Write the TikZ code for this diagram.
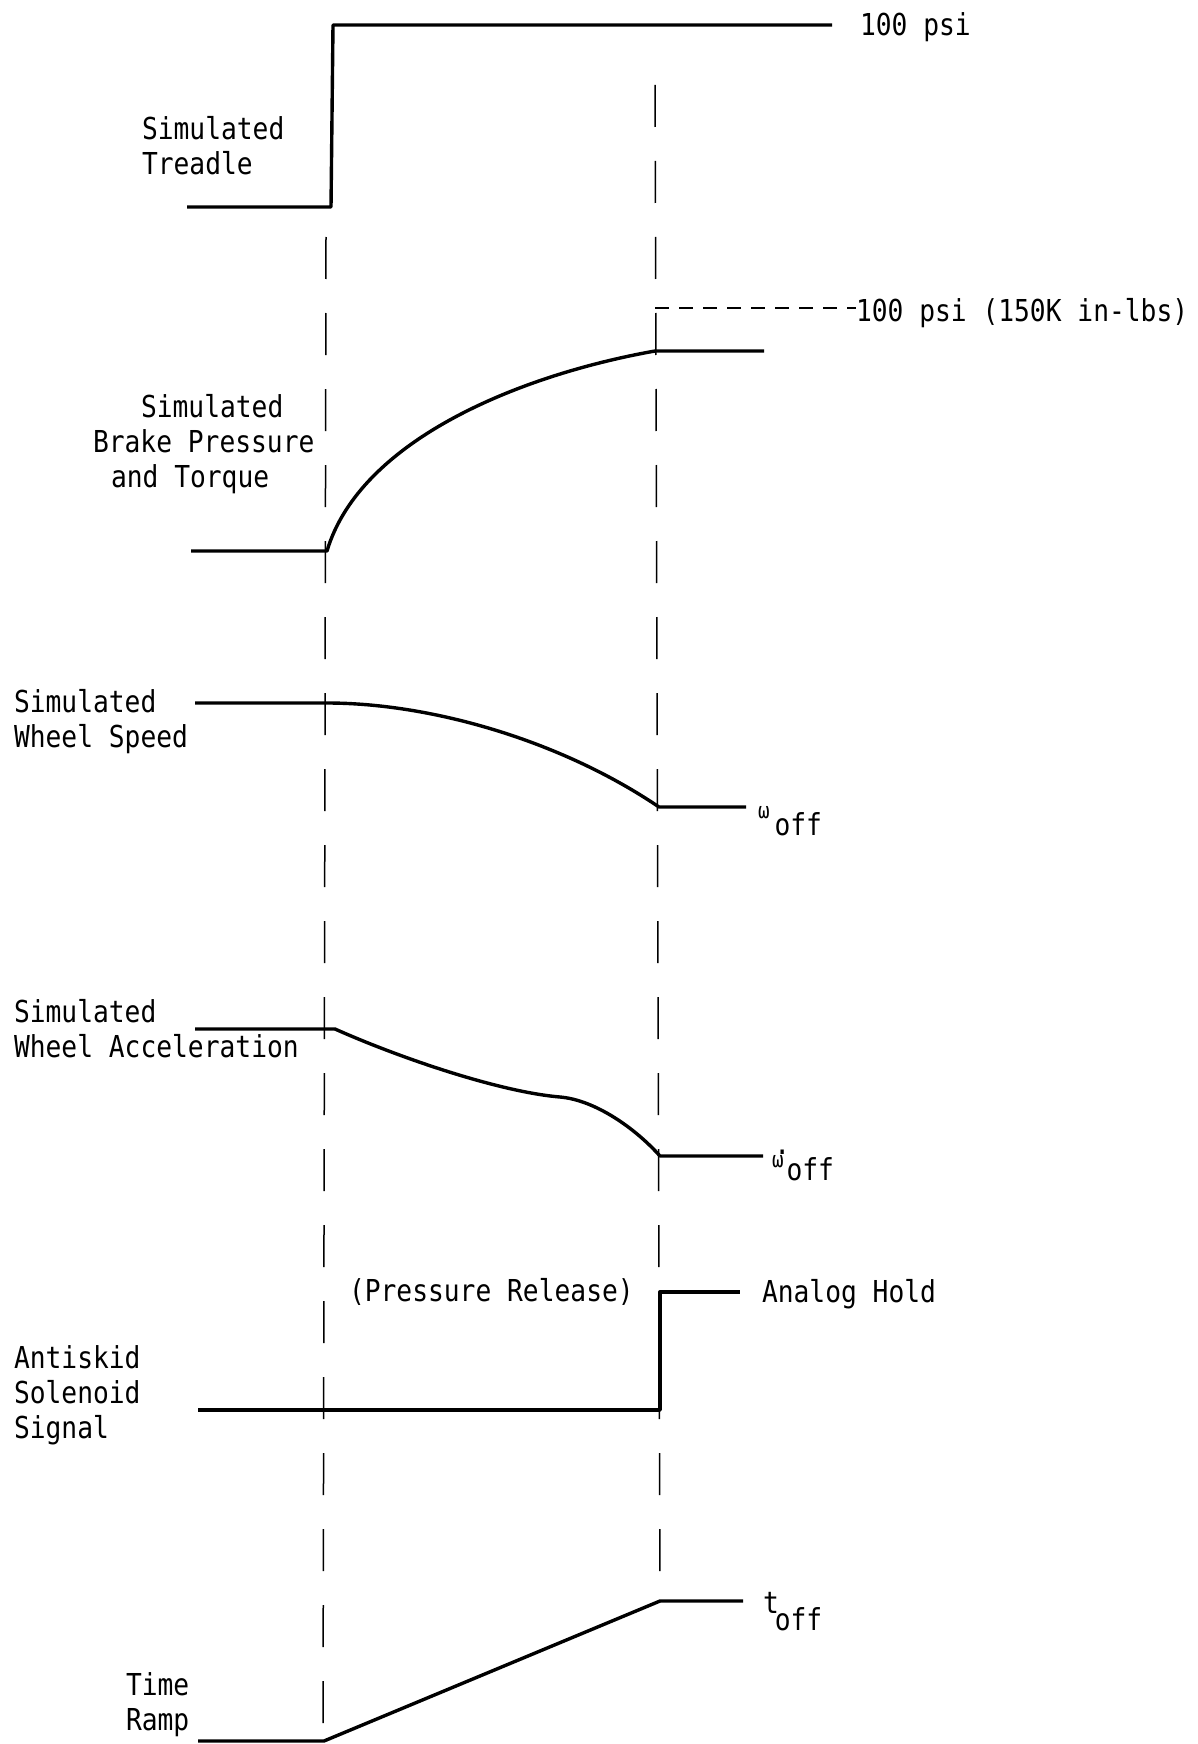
\documentclass[tikz,border=0pt]{standalone}
\usepackage{fontspec}
\newfontfamily\tw[FakeStretch=0.87]{DejaVu Sans Mono}
\begin{document}
\begin{tikzpicture}[x=0.5pt,y=-0.5pt,
  sig/.style={line width=1.7pt, line join=round},
  guide/.style={line width=0.75pt, dash pattern=on 21pt off 17pt},
  reflevel/.style={line width=1.2pt, dash pattern=on 7pt off 5pt},
  lbl/.style={inner sep=0pt, outer sep=0pt, anchor=base west, align=left,
    font=\tw\fontsize{15.1pt}{17.5pt}\selectfont}]
\useasboundingbox (0,0) rectangle (1198,1744);

% guide lines
\coordinate (L1a) at (326,237);
\coordinate (L1b) at (323,1730);
\coordinate (L2a) at (655,85);
\coordinate (L2b) at (660,1580);
\draw[guide] (L1a) -- (L1b);
\draw[guide] (L2a) -- (L2b);

% labels (anchored at the baseline of their last line)
\node[lbl] (treadle) at (142,175) {Simulated\\Treadle};
\node[lbl] (brake) at (93,487) {\hspace*{24pt}Simulated\\Brake Pressure\\\hspace*{9pt}and Torque};
\node[lbl] (speed) at (14,747) {Simulated\\Wheel Speed};
\node[lbl] (accel) at (14,1057) {Simulated\\Wheel Acceleration};
\node[lbl] (solenoid) at (14,1438) {Antiskid\\Solenoid\\Signal};
\node[lbl] (ramp) at (126,1730) {Time\\Ramp};
\node[lbl] (psi1) at (860,36) {100 psi};
\node[lbl] (psi2) at (856,321) {100 psi (150K in-lbs)};
\node[lbl] (release) at (349,1301) {(Pressure Release)};
\node[lbl] (hold) at (762,1302) {Analog Hold};
\node[lbl] (woff) at (758,835) {\raisebox{8.5pt}{\fontsize{11pt}{11pt}\selectfont ω}\kern2.5pt off};
\node[lbl] (wdoff) at (772,1180) {\rlap{\kern1.2pt\raisebox{13pt}{.}}\raisebox{6.5pt}{\fontsize{11pt}{11pt}\selectfont ω}\kern1.5pt off};
\node[lbl] (toff) at (763,1630) {\raisebox{8.5pt}{t}\kern-2pt off};

% treadle
\coordinate (T0) at (187,207);
\coordinate (T1) at (331,207);
\coordinate (T2) at (333,25);
\coordinate (T3) at (832,25);
\draw[sig] (T0) -- (T1) -- (T2) -- (T3);

% brake pressure
\coordinate (B0) at (191,551);
\coordinate (B1) at (327,551);
\coordinate (B2) at (655,351);
\coordinate (B3) at (764,351);
\draw[sig] (B0) -- (B1) .. controls (360,440) and (520,375) .. (B2) -- (B3);
\coordinate (R) at (655,308);
\draw[reflevel] (R) -- (R -| psi2.west);

% wheel speed
\coordinate (S0) at (195,703);
\coordinate (S1) at (327,703);
\coordinate (S2) at (659,807);
\coordinate (S3) at (746,807);
\draw[sig] (S0) -- (S1) .. controls (430,703) and (560,740) .. (S2) -- (S3);

% wheel acceleration
\coordinate (A0) at (195,1029);
\coordinate (A1) at (335,1029);
\coordinate (A2) at (560,1097);
\coordinate (A3) at (660,1156);
\coordinate (A4) at (763,1156);
\draw[sig] (A0) -- (A1) .. controls (400,1058) and (500,1092) .. (A2)
  .. controls (595,1100) and (635,1128) .. (A3) -- (A4);

% antiskid solenoid
\coordinate (K0) at (198,1410);
\coordinate (K1) at (660,1410);
\coordinate (K2) at (660,1292);
\coordinate (K3) at (740,1292);
\draw[sig] (K0) -- (K1) -- (K2) -- (K3);

% time ramp
\coordinate (P0) at (198,1741);
\coordinate (P1) at (324,1741);
\coordinate (P2) at (660,1601);
\coordinate (P3) at (743,1601);
\draw[sig] (P0) -- (P1) -- (P2) -- (P3);
\end{tikzpicture}
\end{document}
